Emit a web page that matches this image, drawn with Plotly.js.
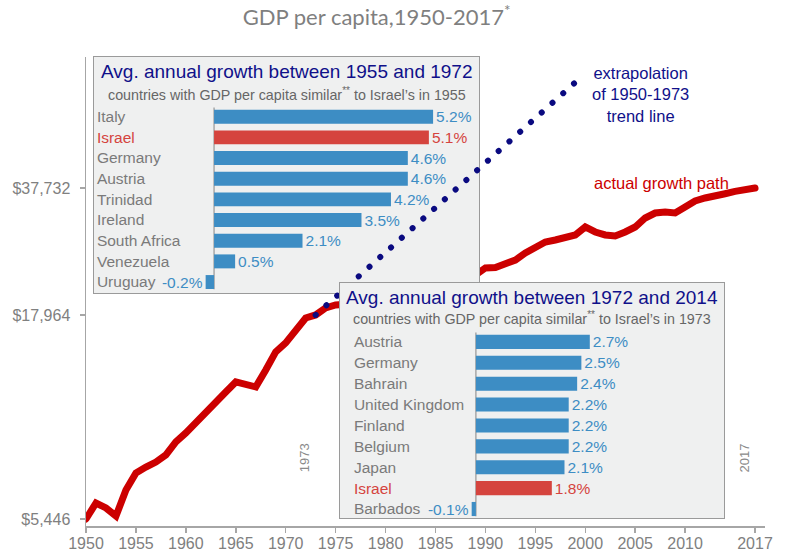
<!DOCTYPE html>
<html>
<head>
<meta charset="utf-8">
<script src="https://cdn.plot.ly/plotly-3.0.1.min.js"></script>
<style>
  body { margin: 0; background: #fff; }
  #chart { width: 788px; height: 552px; }
  /* round caps so the dashed trend line shows as dots */
  .js-plotly-plot .scatterlayer .js-line { stroke-linecap: round !important; }
</style>
</head>
<body>
<div id="chart"></div>
<script>
// GDP per capita, Israel
const years = [1950, 1951, 1952, 1953, 1954, 1955, 1956, 1957, 1958, 1959,
  1960, 1961, 1962, 1963, 1964, 1965, 1966, 1967, 1968, 1969,
  1970, 1971, 1972, 1973, 1974, 1975, 1976, 1977, 1978, 1979,
  1980, 1981, 1982, 1983, 1984, 1985, 1986, 1987, 1988, 1989,
  1990, 1991, 1992, 1993, 1994, 1995, 1996, 1997, 1998, 1999,
  2000, 2001, 2002, 2003, 2004, 2005, 2006, 2007, 2008, 2009,
  2010, 2011, 2012, 2013, 2014, 2015, 2016, 2017];
const gdp = [5446, 5980, 5810, 5540, 6450, 7130, 7380, 7600, 7920, 8550,
  9010, 9600, 10180, 10800, 11450, 12140, 11930, 11790, 13020, 14470,
  15250, 16350, 17650, 17964, 18710, 19040, 19150, 19200, 19600, 20100,
  20500, 20900, 20950, 21150, 21100, 21500, 22300, 22690, 22960, 22690,
  23640, 23700, 24340, 24770, 25810, 26730, 27520, 27850, 28340, 28680,
  30050, 29180, 28680, 28510, 29180, 30050, 31670, 32610, 32800, 32610,
  33780, 34980, 35600, 36230, 36500, 37000, 37300, 37732];

// extrapolated 1950-1973 trend
const trendYears = [1973, 1999];
const trendGdp = [17964, 70000];

const yTicks = [5446, 17964, 37732];
const yTickText = ['$5,446', '$17,964', '$37,732'];
const xTicks = [1950, 1955, 1960, 1965, 1970, 1975, 1980, 1985, 1990, 1995, 2000, 2005, 2010, 2017];
const markYears = [1973, 2017];

// inset 1: growth 1955-1972
const countries1 = ['Italy', 'Israel', 'Germany', 'Austria', 'Trinidad', 'Ireland', 'South Africa', 'Venezuela', 'Uruguay'];
const growth1 = [5.2, 5.1, 4.6, 4.6, 4.2, 3.5, 2.1, 0.5, -0.2];

// inset 2: growth 1972-2014
const countries2 = ['Austria', 'Germany', 'Bahrain', 'United Kingdom', 'Finland', 'Belgium', 'Japan', 'Israel', 'Barbados'];
const growth2 = [2.7, 2.5, 2.4, 2.2, 2.2, 2.2, 2.1, 1.8, -0.1];

const FONT = 'Liberation Sans, Arial, sans-serif';
const BLUE = '#3d8dc4';
const RED_BAR = '#d5443e';
const NAVY = '#10108a';
const GRAY = '#7a7a7a';
const BOX_BG = '#eff0f0';
const BOX_LINE = '#9a9a9a';

const xRange = [1950, 2018];
const yRange = [3.7183, 4.9096];   // log10 units
const box1X = [-2.85, 6.29], box1Y = [8.53, -2.89];
const box2X = [-3.22, 5.88], box2Y = [8.43, -2.82];

const colorFor = c => c === 'Israel' ? RED_BAR : BLUE;
const labelFor = c => c === 'Israel' ? '<span style="color:' + RED_BAR + '">' + c + '</span>' : c;

function barTrace(countries, growth, xa, ya) {
  return {
    type: 'bar', orientation: 'h',
    x: growth, y: countries,
    xaxis: xa, yaxis: ya,
    marker: { color: countries.map(colorFor) },
    text: growth.map(v => v.toFixed(1) + '%'),
    textposition: 'outside',
    constraintext: 'none',
    cliponaxis: false,
    textfont: { family: FONT, size: 15.5, color: countries.map(colorFor) },
    hoverinfo: 'skip'
  };
}

// order of subplots = stacking: main line, box 1, trend dots, box 2
const traces = [
  {
    x: years, y: gdp, mode: 'lines',
    line: { color: '#cc0000', width: 7 },
    hoverinfo: 'skip'
  },
  barTrace(countries1, growth1, 'x2', 'y2'),
  {
    x: trendYears, y: trendGdp, mode: 'lines',
    xaxis: 'x3', yaxis: 'y3',
    line: { color: '#0a0a80', width: 6, dash: '0.1px,14.35px' },
    hoverinfo: 'skip'
  },
  barTrace(countries2, growth2, 'x4', 'y4')
];

function insetX(range, domain, anchor) {
  return {
    domain: domain, anchor: anchor, range: range, showticklabels: false, ticks: '',
    showgrid: false, zeroline: false,
    showline: true, mirror: true, linecolor: BOX_LINE, linewidth: 1
  };
}
function insetY(countries, range, domain, anchor, standoff) {
  return {
    domain: domain, anchor: anchor, type: 'category', range: range,
    tickmode: 'array', tickvals: countries, ticktext: countries.map(labelFor),
    ticks: '', ticklabelposition: 'inside', ticklabelstandoff: standoff,
    tickfont: { family: FONT, size: 15.5, color: GRAY },
    showgrid: false, zeroline: false,
    showline: true, mirror: true, linecolor: BOX_LINE, linewidth: 1
  };
}

function boxShapes(xa, ya, xr, yr) {
  return [
    { type: 'rect', xref: xa, yref: ya, x0: xr[0], x1: xr[1], y0: yr[1], y1: yr[0],
      fillcolor: BOX_BG, line: { width: 0 }, layer: 'below' },
    { type: 'line', xref: xa, yref: ya, x0: 0, x1: 0, y0: -0.45, y1: 8.35,
      line: { color: '#a8a8a8', width: 1.5 }, layer: 'below' }
  ];
}

const shapes = [].concat(boxShapes('x2', 'y2', box1X, box1Y), boxShapes('x4', 'y4', box2X, box2Y));
markYears.forEach(yr => {
  const v = gdp[years.indexOf(yr)];
  shapes.push({ type: 'line', xref: 'x', yref: 'y', x0: yr, x1: yr, y0: yRange[0], y1: Math.log10(v),
    line: { color: '#9a9a9a', width: 1, dash: 'dot' }, layer: 'below' });
});

const annotations = [
  { xref: 'x2 domain', yref: 'y2 domain', x: 0.5, y: 0.937, yanchor: 'middle',
    text: 'Avg. annual growth between 1955 and 1972', showarrow: false,
    font: { family: FONT, size: 19, color: NAVY } },
  { xref: 'x2 domain', yref: 'y2 domain', x: 0.5, y: 0.844, yanchor: 'middle',
    text: 'countries with GDP per capita similar<sup>**</sup> to Israel\u2019s in 1955', showarrow: false,
    font: { family: FONT, size: 14.3, color: '#666666' } },
  { xref: 'x4 domain', yref: 'y4 domain', x: 0.5, y: 0.940, yanchor: 'middle',
    text: 'Avg. annual growth between 1972 and 2014', showarrow: false,
    font: { family: FONT, size: 19, color: NAVY } },
  { xref: 'x4 domain', yref: 'y4 domain', x: 0.5, y: 0.851, yanchor: 'middle',
    text: 'countries with GDP per capita similar<sup>**</sup> to Israel\u2019s in 1973', showarrow: false,
    font: { family: FONT, size: 14.3, color: '#666666' } },
  { xref: 'x', yref: 'paper', x: 2005.5, y: 0.919, yanchor: 'middle', align: 'center',
    text: 'extrapolation<br>of 1950-1973<br>trend line', showarrow: false,
    font: { family: FONT, size: 16.5, color: NAVY } },
  { xref: 'x', yref: 'paper', x: 2014.6, y: 0.731, xanchor: 'right', yanchor: 'middle',
    text: 'actual growth path', showarrow: false,
    font: { family: FONT, size: 16.5, color: '#cc0000' } }
];
markYears.forEach(yr => {
  annotations.push({ xref: 'x', yref: 'paper', x: yr, xshift: -1, y: 0.145,
    xanchor: 'right', yanchor: 'middle', textangle: -90,
    text: String(yr), showarrow: false,
    font: { family: FONT, size: 13, color: '#8a8a8a' } });
});

const layout = {
  width: 788, height: 552,
  margin: { l: 86, r: 23, t: 57, b: 26 },
  paper_bgcolor: '#ffffff',
  plot_bgcolor: 'rgba(0,0,0,0)',
  showlegend: false,
  bargap: 0.325,
  font: { family: FONT, color: GRAY },
  title: {
    text: 'GDP per capita,1950-2017<sup>*</sup>',
    x: 0.478, xanchor: 'center', y: 0.969, yanchor: 'middle',
    font: { family: 'Lato, Open Sans, sans-serif', size: 22, color: '#7f7f7f' }
  },
  xaxis: {
    range: xRange, tickmode: 'array', tickvals: xTicks,
    showgrid: false, zeroline: false,
    showline: true, linecolor: '#a6a6a6', linewidth: 1.5,
    ticks: 'outside', ticklen: 5, tickcolor: '#a6a6a6', tickwidth: 1.5,
    ticklabelstandoff: -3,
    tickfont: { family: FONT, size: 16, color: '#808080' }
  },
  yaxis: {
    type: 'log', range: yRange, tickmode: 'array',
    tickvals: yTicks, ticktext: yTickText,
    showgrid: false, zeroline: false,
    showline: true, linecolor: '#a6a6a6', linewidth: 1.5,
    ticks: 'outside', ticklen: 5, tickcolor: '#a6a6a6', tickwidth: 1.5,
    ticklabelstandoff: 6,
    tickfont: { family: FONT, size: 16, color: '#808080' }
  },
  xaxis2: insetX(box1X, [0.0118, 0.5788], 'y2'),
  yaxis2: insetY(countries1, box1Y, [0.4968, 1], 'x2', 3),
  xaxis3: { domain: [0, 1], anchor: 'y3', range: xRange, visible: false },
  yaxis3: { domain: [0, 1], anchor: 'x3', type: 'log', range: yRange, visible: false },
  xaxis4: insetX(box2X, [0.3741, 0.9396], 'y4'),
  yaxis4: insetY(countries2, box2Y, [0.0171, 0.5181], 'x4', 14),
  shapes: shapes,
  annotations: annotations
};

Plotly.newPlot('chart', traces, layout, { displayModeBar: false, staticPlot: true });
</script>
</body>
</html>
